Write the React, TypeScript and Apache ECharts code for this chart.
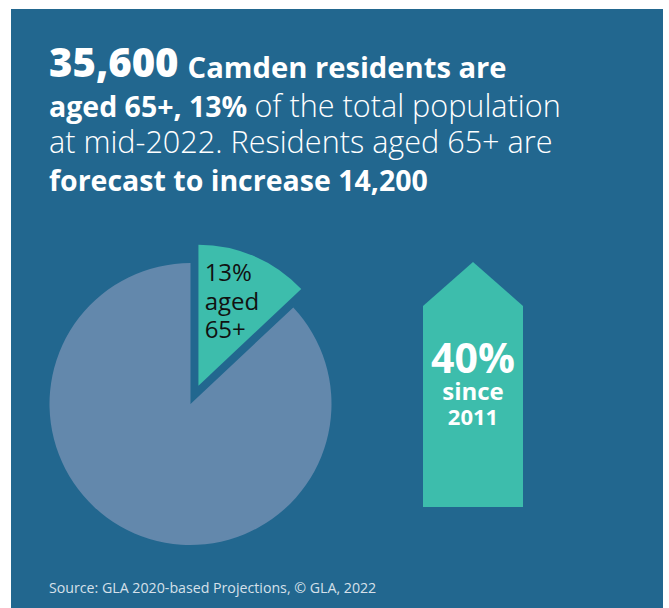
import React, { useEffect, useRef } from 'react';
import * as echarts from 'echarts';

// ---- data ----
const sliceNames = ['aged 65+', 'other ages'];
const sliceValues = [13, 87];
const sliceColors = ['#3dbdac', '#6388ac'];

const headlineTotal = '35,600';
const headlineShare = '13%';
const headlineIncrease = '14,200';
const headlineYear = 'mid-2022';
const growthPct = '40%';
const growthSinceYear = '2011';
const sourceText = 'Source: GLA 2020-based Projections, \u00a9 GLA, 2022';

const FONT = "'Open Sans', 'Noto Sans', sans-serif";
const BG = '#22678f';

export default function App() {
  const ref = useRef<HTMLDivElement>(null);
  useEffect(() => {
    if (!ref.current) return;
    const chart = echarts.init(ref.current, undefined, { renderer: 'svg' });
    const LH = 36;
    const boldBig = { fontFamily: FONT, fontSize: 40, fontWeight: 800, fill: '#fff', verticalAlign: 'bottom', lineHeight: LH, padding: [0, 9, 0, 0] };
    const bold = { fontFamily: FONT, fontSize: 29.2, fontWeight: 700, fill: '#fff', verticalAlign: 'bottom', lineHeight: LH };
    const bold2 = { fontFamily: FONT, fontSize: 28.5, fontWeight: 700, fill: '#fff', verticalAlign: 'bottom', lineHeight: LH, padding: [0, 4, 0, 0] };
    const light = { fontFamily: FONT, fontSize: 30.6, fontWeight: 300, fill: '#fff', verticalAlign: 'bottom', lineHeight: LH };
    const rich = { big: boldBig, b: bold, b2: bold2, l: light };
    const lineX = 49;
    const mkLine = (text: string, y: number) => ({
      type: 'text',
      x: lineX,
      y,
      style: { text, rich, fill: '#fff', fontFamily: FONT, verticalAlign: 'bottom', align: 'left' },
      silent: true,
    });
    chart.setOption({
      animation: false,
      backgroundColor: '#ffffff',
      graphic: [
        { type: 'rect', z: -10, shape: { x: 11, y: 9, width: 652, height: 600 }, style: { fill: BG }, silent: true },
        mkLine(`{big|${headlineTotal}}{b|Camden residents are}`, 81),
        mkLine(`{b2|aged 65+, ${headlineShare}} {l|of the total population}`, 120),
        mkLine(`{l|at ${headlineYear}. Residents aged 65+ are}`, 156),
        mkLine(`{b2|forecast to increase ${headlineIncrease}}`, 194),
        {
          type: 'polygon',
          shape: { points: [[423, 507], [423, 306], [473, 262], [523, 306], [523, 507]] },
          style: { fill: sliceColors[0] },
          silent: true,
        },
        {
          type: 'text', x: 473, y: 337,
          style: {
            text: `{a|${growthPct}}\n{s|since}\n{y|${growthSinceYear}}`,
            fill: '#fff', fontFamily: FONT, align: 'center', verticalAlign: 'top',
            rich: {
              a: { fontFamily: FONT, fontSize: 41, fontWeight: 700, fill: '#fff', lineHeight: 40, align: 'center' },
              s: { fontFamily: FONT, fontSize: 24, fontWeight: 700, fill: '#fff', lineHeight: 26, align: 'center' },
              y: { fontFamily: FONT, fontSize: 22, fontWeight: 700, fill: '#fff', lineHeight: 26, align: 'center' },
            },
          },
          silent: true,
        },
        {
          type: 'text', x: 49, y: 587,
          style: { text: sourceText, fill: '#d6e0ea', fontFamily: FONT, fontSize: 14.2, align: 'left', verticalAlign: 'middle' },
          silent: true,
        },
      ],
      series: [
        {
          type: 'pie',
          center: [190.5, 404],
          radius: 141,
          startAngle: 90,
          clockwise: true,
          selectedMode: 'single',
          selectedOffset: 20,
          avoidLabelOverlap: false,
          emphasis: { disabled: true },
          data: sliceNames.map((name, i) => ({
            name,
            value: sliceValues[i],
            selected: i === 0,
            itemStyle: { color: sliceColors[i] },
            label: { show: i === 0 },
          })),
          label: {
            position: 'inside',
            formatter: (p: any) => `${p.value}%\n${p.name.replace(' ', '\n')}`,
            color: '#111',
            fontFamily: FONT,
            fontSize: 24,
            lineHeight: 28.5,
          },
          labelLayout: { dx: -23, dy: -18, align: 'left' },
          labelLine: { show: false },
        },
      ],
    });
    return () => chart.dispose();
  }, []);
  return <div ref={ref} style={{ position: 'absolute', left: 0, top: 0, width: 669, height: 608 }} />;
}
